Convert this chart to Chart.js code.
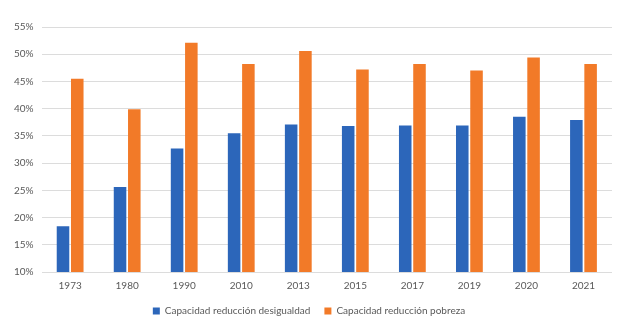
<!DOCTYPE html>
<html>
<head>
<meta charset="utf-8">
<script src="https://cdn.jsdelivr.net/npm/chart.js@4"></script>
<style>
  html, body { margin: 0; padding: 0; background: #fff; }
  #wrap { width: 617px; height: 332px; }
</style>
</head>
<body>
<div id="wrap"><canvas id="myChart" width="617" height="332"></canvas></div>
<script>
// data (percent)
var years = ["1973", "1980", "1990", "2010", "2013", "2015", "2017", "2019", "2020", "2021"];
var desigualdad = [18.4, 25.6, 32.7, 35.5, 37.1, 36.8, 36.9, 36.9, 38.5, 37.9];
var pobreza = [45.5, 39.9, 52.1, 48.2, 50.6, 47.2, 48.2, 47.0, 49.4, 48.2];
var seriesNames = ["Capacidad reducción desigualdad", "Capacidad reducción pobreza"];

Chart.defaults.font.family = "Lato, 'Open Sans', sans-serif";
Chart.defaults.color = "#595959";

var ctx = document.getElementById("myChart").getContext("2d");
var myChart = new Chart(ctx, {
	type: "bar",
	data: {
		labels: years,
		datasets: [
			{
				label: seriesNames[0],
				data: desigualdad,
				backgroundColor: "#2c66ba",
				categoryPercentage: 0.5,
				barPercentage: 0.88,
			},
			{
				label: seriesNames[1],
				data: pobreza,
				backgroundColor: "#f27a28",
				categoryPercentage: 0.5,
				barPercentage: 0.88,
			},
		],
	},
	options: {
		responsive: false,
		animation: false,
		layout: { padding: { top: 27, left: 6, right: 5, bottom: 6 } },
		plugins: {
			legend: {
				position: "bottom",
				labels: {
					boxWidth: 7,
					boxHeight: 7,
					padding: 14,
					font: { size: 10 },
					color: "#595959",
				},
			},
			tooltip: { enabled: false },
		},
		scales: {
			x: {
				grid: { display: false },
				border: { display: false },
				ticks: { font: { size: 10 }, color: "#595959", padding: 0 },
			},
			y: {
				min: 10,
				max: 55,
				border: { display: false },
				grid: { color: "#dcdcdc", drawTicks: false },
				ticks: {
					stepSize: 5,
					padding: 8,
					font: { size: 10 },
					color: "#595959",
					callback: function (v) {
						return v + "%";
					},
				},
			},
		},
	},
});
</script>
</body>
</html>
